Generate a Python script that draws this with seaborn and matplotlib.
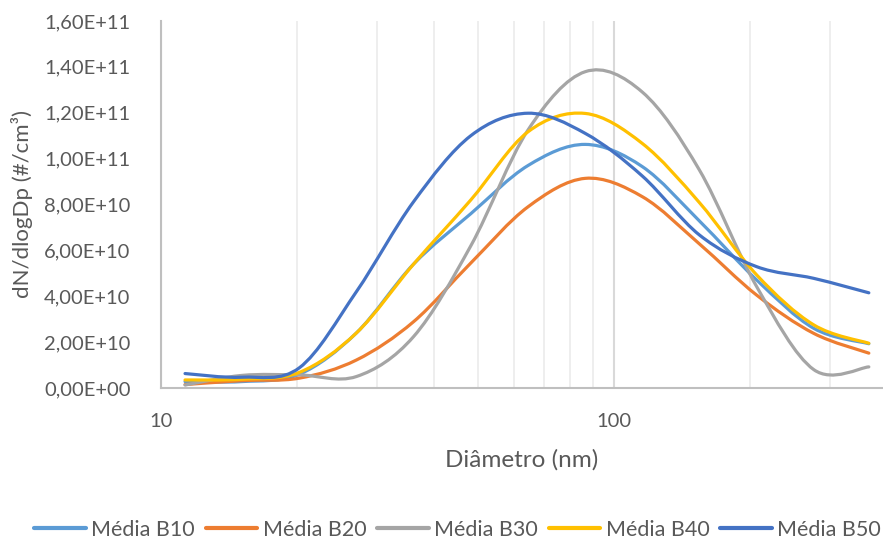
import numpy as np
import pandas as pd
import matplotlib
matplotlib.use("Agg")
import matplotlib.pyplot as plt
from matplotlib.path import Path
from matplotlib.patches import PathPatch
from matplotlib.ticker import FuncFormatter, LogLocator, NullFormatter, FixedLocator
import seaborn as sns

# Mobility diameter of each size bin (nm)
diametro = [11.3, 15.1, 20.2, 27.0, 36.1, 48.3, 64.6, 86.4, 115.5, 154.4, 206.5, 276.1, 365.2]

# Mean size distributions, dN/dlogDp in units of 1e10 #/cm3
media_b10 = [0.28, 0.28, 0.60, 2.40, 5.40, 7.60, 9.70, 10.62, 9.65, 7.28, 4.71, 2.60, 1.93]
media_b20 = [0.15, 0.32, 0.43, 1.22, 2.89, 5.45, 7.90, 9.14, 8.34, 6.28, 4.05, 2.38, 1.52]
media_b30 = [0.13, 0.55, 0.57, 0.50, 2.24, 6.20, 11.25, 13.79, 12.90, 9.50, 4.42, 0.80, 0.92]
media_b40 = [0.35, 0.38, 0.68, 2.40, 5.40, 8.20, 11.17, 11.97, 10.66, 8.08, 4.93, 2.75, 1.95]
media_b50 = [0.63, 0.47, 0.88, 4.20, 8.12, 11.00, 11.98, 11.10, 9.24, 6.67, 5.29, 4.78, 4.15]

series_names = ["Média B10", "Média B20", "Média B30", "Média B40", "Média B50"]
series_values = [media_b10, media_b20, media_b30, media_b40, media_b50]
series_colors = ["#5B9BD5", "#ED7D31", "#A5A5A5", "#FFC000", "#4472C4"]

y_ticks = [0, 2e10, 4e10, 6e10, 8e10, 1e11, 1.2e11, 1.4e11, 1.6e11]

df = pd.concat(
    [pd.DataFrame({"Diâmetro": diametro, "dN": np.array(v) * 1e10, "Série": n})
     for n, v in zip(series_names, series_values)],
    ignore_index=True,
)

sns.set_theme(style="white")
plt.rcParams["font.family"] = ["Lato", "DejaVu Sans"]
text_color = "#595959"

fig = plt.figure(figsize=(8.83, 5.43), dpi=100)
ax = fig.add_axes([161 / 883, 1 - 388 / 543, 1 - 161 / 883, (388 - 21) / 543])

lw = 2.3
sns.lineplot(data=df, x="Diâmetro", y="dN", hue="Série", palette=series_colors,
             linewidth=lw, ax=ax, legend=True, sort=False)
ax.set_xscale("log")


def smooth_path(xs, ys):
    """Smoothed line through the points (cubic Bezier, Catmull-Rom tangents in log-x)."""
    lx = np.log10(np.asarray(xs, float))
    y = np.asarray(ys, float)
    n = len(lx)
    verts = [(xs[0], y[0])]
    codes = [Path.MOVETO]
    for i in range(n - 1):
        i0, i3 = max(i - 1, 0), min(i + 2, n - 1)
        c1x = lx[i] + (lx[i + 1] - lx[i0]) / 6
        c1y = y[i] + (y[i + 1] - y[i0]) / 6
        c2x = lx[i + 1] - (lx[i3] - lx[i]) / 6
        c2y = y[i + 1] - (y[i3] - y[i]) / 6
        verts += [(10 ** c1x, c1y), (10 ** c2x, c2y), (10 ** lx[i + 1], y[i + 1])]
        codes += [Path.CURVE4] * 3
    return Path(verts, codes)


# Replace the straight polylines with smoothed curves of the same style
for line in list(ax.lines):
    xs, ys = line.get_xdata(), line.get_ydata()
    if len(xs) < 2:
        continue
    patch = PathPatch(smooth_path(xs, ys), facecolor="none", edgecolor=line.get_color(),
                      linewidth=lw, capstyle="round", joinstyle="round",
                      zorder=line.get_zorder())
    ax.add_patch(patch)
    line.remove()

ax.set_xlim(10, 10 ** (1 + (883 - 161) / 453))
ax.set_ylim(0, 1.6e11)

ax.xaxis.set_major_locator(FixedLocator([10, 100]))
ax.xaxis.set_major_formatter(FuncFormatter(lambda v, p: f"{v:g}"))
ax.xaxis.set_minor_locator(LogLocator(base=10, subs=np.arange(2, 10)))
ax.xaxis.set_minor_formatter(NullFormatter())
ax.set_yticks(y_ticks)
ax.yaxis.set_major_formatter(FuncFormatter(lambda v, p: f"{v:.2E}".replace(".", ",")))

ax.grid(False)
ax.grid(which="minor", axis="x", color="#EDEDED", linewidth=1.3)
ax.grid(which="major", axis="x", color="#D9D9D9", linewidth=1.5)
ax.set_axisbelow(True)

for side in ("top", "right"):
    ax.spines[side].set_visible(False)
for side in ("left", "bottom"):
    ax.spines[side].set_color("#BFBFBF")
    ax.spines[side].set_linewidth(1.5)

ax.tick_params(axis="both", which="both", length=0, labelsize=14.5, labelcolor=text_color)
ax.tick_params(axis="y", pad=22)
ax.tick_params(axis="x", pad=18)

ax.set_xlabel("Diâmetro (nm)", fontsize=17.5, color=text_color, labelpad=14)
ax.set_ylabel("dN/dlogDp (#/cm³)", fontsize=16, color=text_color, labelpad=8)

sns.move_legend(ax, "center", bbox_to_anchor=(0.411, -0.387), ncol=5, title=None,
                frameon=False, fontsize=15.5, handlelength=2.4, handletextpad=0.25,
                columnspacing=0.5, labelcolor=text_color)
for h in ax.get_legend().legend_handles:
    h.set_linewidth(3)

fig.savefig("out.png", dpi=100)
